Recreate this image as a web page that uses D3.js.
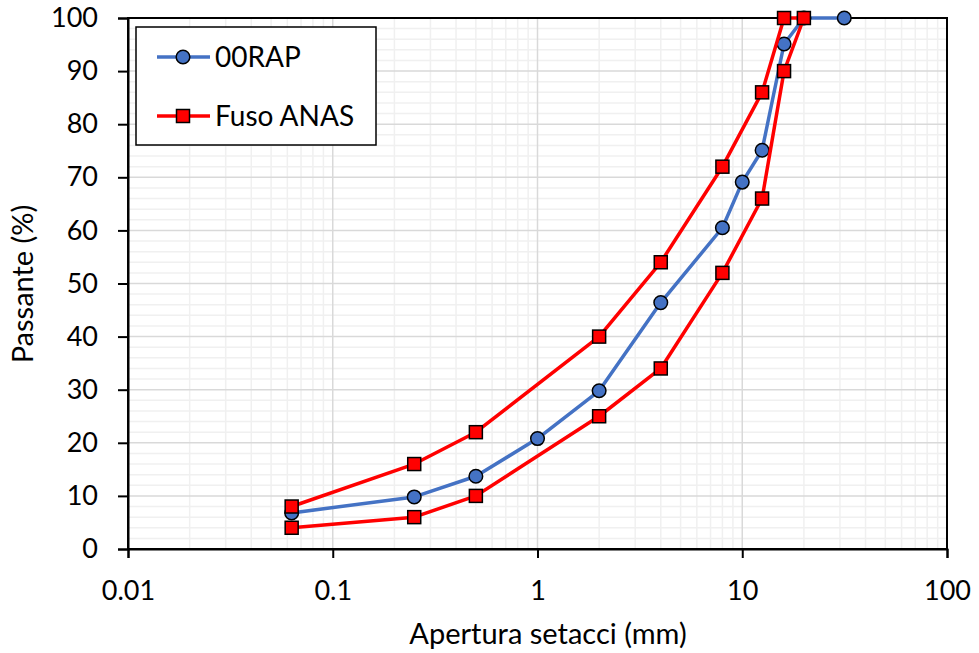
<!DOCTYPE html>
<html lang="en">
<head>
<meta charset="utf-8">
<title>Curva granulometrica</title>
<script src="https://d3js.org/d3.v7.min.js"></script>
<style>
  body { margin: 0; background: #fff; }
  text { font-family: Lato, "Open Sans", sans-serif; fill: #000; }
</style>
</head>
<body>
<script>
// sieve openings (mm) and passing (%)
const rapSieves = [0.063, 0.25, 0.5, 1, 2, 4, 8, 10, 12.5, 16, 20, 31.5];
const rapPassing = [6.8, 9.8, 13.7, 20.8, 29.8, 46.4, 60.5, 69.1, 75.1, 95.1, 100, 100];

// ANAS envelope: upper limit then lower limit (drawn as one closed band line)
const anasUpperSieves = [0.063, 0.25, 0.5, 2, 4, 8, 12.5, 16];
const anasUpper = [8, 16, 22, 40, 54, 72, 86, 100];
const anasLowerSieves = [20, 16, 12.5, 8, 4, 2, 0.5, 0.25, 0.063];
const anasLower = [100, 90, 66, 52, 34, 25, 10, 6, 4];

const xTicks = [0.01, 0.1, 1, 10, 100];
const yTicks = [0, 10, 20, 30, 40, 50, 60, 70, 80, 90, 100];

const w = 979, h = 653;
const pLeft = 128, pRight = 947, pTop = 18, pBottom = 549;

const svg = d3.select("body").append("svg")
  .attr("width", w).attr("height", h);

const x = d3.scaleLog().domain([0.01, 100]).range([pLeft, pRight]);
const y = d3.scaleLinear().domain([0, 100]).range([pBottom, pTop]);

// minor grid
const minorX = [];
for (let e = -2; e < 2; e++) for (let k = 2; k <= 9; k++) minorX.push(k * Math.pow(10, e));
const minorY = d3.range(2, 100, 2).filter(v => v % 10 !== 0);

const grid = svg.append("g");
grid.selectAll(".mx").data(minorX).enter().append("line")
  .attr("x1", d => x(d)).attr("x2", d => x(d))
  .attr("y1", pTop).attr("y2", pBottom)
  .attr("stroke", "#f0f0f0").attr("stroke-width", 1.5);
grid.selectAll(".my").data(minorY).enter().append("line")
  .attr("x1", pLeft).attr("x2", pRight)
  .attr("y1", d => y(d)).attr("y2", d => y(d))
  .attr("stroke", "#f0f0f0").attr("stroke-width", 1.5);
grid.selectAll(".Mx").data(xTicks).enter().append("line")
  .attr("x1", d => x(d)).attr("x2", d => x(d))
  .attr("y1", pTop).attr("y2", pBottom)
  .attr("stroke", "#d9d9d9").attr("stroke-width", 1.5);
grid.selectAll(".My").data(yTicks).enter().append("line")
  .attr("x1", pLeft).attr("x2", pRight)
  .attr("y1", d => y(d)).attr("y2", d => y(d))
  .attr("stroke", "#d9d9d9").attr("stroke-width", 1.5);

// frame
svg.append("rect")
  .attr("x", pLeft).attr("y", pTop)
  .attr("width", pRight - pLeft).attr("height", pBottom - pTop)
  .attr("fill", "none").attr("stroke", "#000").attr("stroke-width", 2);

// axes
const xAxis = svg.append("g")
  .attr("transform", `translate(0,${pBottom})`)
  .call(d3.axisBottom(x).tickValues(xTicks).tickFormat(d3.format("~g")).tickSize(9).tickPadding(23));
const yAxis = svg.append("g")
  .attr("transform", `translate(${pLeft},0)`)
  .call(d3.axisLeft(y).tickValues(yTicks).tickSize(10).tickPadding(20));
[xAxis, yAxis].forEach(g => {
  g.select(".domain").attr("stroke", "#000").attr("stroke-width", 2);
  g.selectAll(".tick line").attr("stroke", "#000").attr("stroke-width", 2);
  g.selectAll(".tick text").style("font-family", "Lato, 'Open Sans', sans-serif")
    .style("font-size", "27px").attr("fill", "#000");
});

// titles
svg.append("text")
  .attr("x", 548).attr("y", 644)
  .attr("text-anchor", "middle")
  .style("font-size", "29px")
  .text("Apertura setacci (mm)");
svg.append("text")
  .attr("transform", "translate(33,284) rotate(-90)")
  .attr("text-anchor", "middle")
  .style("font-size", "29px")
  .text("Passante (%)");

const line = d3.line().x(d => x(d[0])).y(d => y(d[1]));

const rap = rapSieves.map((s, i) => [s, rapPassing[i]]);
const anas = anasUpperSieves.map((s, i) => [s, anasUpper[i]])
  .concat(anasLowerSieves.map((s, i) => [s, anasLower[i]]));

const blue = "#4472c4", red = "#ff0000";

svg.append("path").datum(rap)
  .attr("d", line).attr("fill", "none")
  .attr("stroke", blue).attr("stroke-width", 3.5).attr("stroke-linejoin", "round");
svg.selectAll(".rapPt").data(rap).enter().append("circle")
  .attr("cx", d => x(d[0])).attr("cy", d => y(d[1])).attr("r", 6.8)
  .attr("fill", blue).attr("stroke", "#000").attr("stroke-width", 1.5);

svg.append("path").datum(anas)
  .attr("d", line).attr("fill", "none")
  .attr("stroke", red).attr("stroke-width", 3.5).attr("stroke-linejoin", "round");
svg.selectAll(".anasPt").data(anas).enter().append("rect")
  .attr("x", d => x(d[0]) - 6.5).attr("y", d => y(d[1]) - 6.5)
  .attr("width", 13).attr("height", 13)
  .attr("fill", red).attr("stroke", "#000").attr("stroke-width", 1.5);

// legend
const lg = svg.append("g");
lg.append("rect")
  .attr("x", 136).attr("y", 27).attr("width", 240).attr("height", 118)
  .attr("fill", "#fff").attr("stroke", "#000").attr("stroke-width", 1.5);
const items = [
  { name: "00RAP", color: blue, shape: "circle", y: 57 },
  { name: "Fuso ANAS", color: red, shape: "square", y: 116 }
];
items.forEach(it => {
  lg.append("line").attr("x1", 157).attr("x2", 210)
    .attr("y1", it.y).attr("y2", it.y)
    .attr("stroke", it.color).attr("stroke-width", 3.5);
  if (it.shape === "circle") {
    lg.append("circle").attr("cx", 183).attr("cy", it.y).attr("r", 6.8)
      .attr("fill", it.color).attr("stroke", "#000").attr("stroke-width", 1.5);
  } else {
    lg.append("rect").attr("x", 183 - 6.5).attr("y", it.y - 6.5)
      .attr("width", 13).attr("height", 13)
      .attr("fill", it.color).attr("stroke", "#000").attr("stroke-width", 1.5);
  }
  lg.append("text").attr("x", 215).attr("y", it.y)
    .attr("dy", "0.35em").style("font-size", "28px").text(it.name);
});
</script>
</body>
</html>
